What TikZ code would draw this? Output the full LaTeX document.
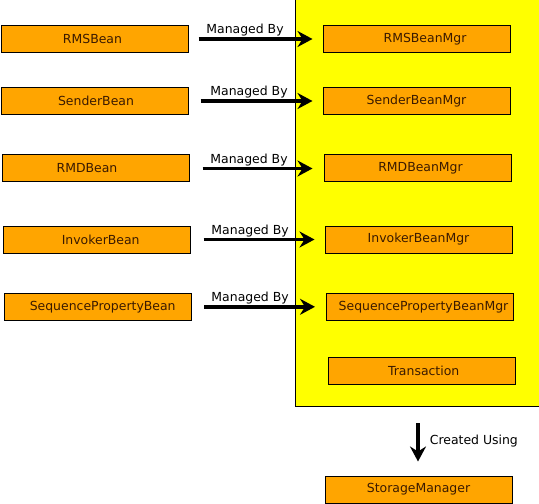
\documentclass[tikz,border=0pt]{standalone}
\usepackage{fontspec}
\setmainfont{DejaVu Sans}
\usetikzlibrary{arrows.meta}
\definecolor{boxfill}{HTML}{FFA500}
\definecolor{boxtext}{HTML}{3A1A00}
\definecolor{areafill}{HTML}{FFFF00}
\tikzset{
  beanbox/.style={draw=black, line width=1bp, fill=boxfill, minimum width=187bp, minimum height=27bp, inner sep=0pt},
  lbl/.style={text=boxtext, font=\fontsize{12.5}{14}\selectfont},
  edgelbl/.style={text=black, font=\fontsize{12.5}{14}\selectfont, inner sep=1bp},
  managed/.style={line width=3.6bp, -{Stealth[length=15bp,width=16bp,inset=5bp]}},
}
\begin{document}
\begin{tikzpicture}[x=1bp,y=-1bp]
\useasboundingbox (0,0) rectangle (539,504);
\fill[white] (0,0) rectangle (539,504);
\draw[fill=areafill, line width=1bp] (541,-3) -- (295.5,-3) -- (295.5,406.5) -- (541,406.5);

% left column
\node[beanbox, label={[lbl,xshift=-2.5bp]center:RMSBean}] (b1) at (95,39) {};
\node[beanbox, label={[lbl,xshift=1bp]center:SenderBean}] (b2) at (95,101) {};
\node[beanbox, label={[lbl,xshift=-9bp]center:RMDBean}] (b3) at (96,168.5) {};
\node[beanbox, label={[lbl,xshift=4bp]center:InvokerBean}] (b4) at (96.7,239.5) {};
\node[beanbox, label={[lbl,xshift=5bp]center:SequencePropertyBean}] (b5) at (97.7,306.8) {};

% right column
\node[beanbox, label={[lbl,xshift=8.5bp]center:RMSBeanMgr}] (m1) at (416.5,39) {};
\node[beanbox, label={[lbl]center:SenderBeanMgr}] (m2) at (416.5,101) {};
\node[beanbox, label={[lbl,xshift=3bp]center:RMDBeanMgr}] (m3) at (417.5,168.5) {};
\node[beanbox, label={[lbl]center:InvokerBeanMgr}] (m4) at (418.5,239.5) {};
\node[beanbox, label={[lbl,xshift=4bp]center:SequencePropertyBeanMgr}] (m5) at (419.5,306.8) {};
\node[beanbox, label={[lbl,xshift=2bp]center:Transaction}] (tr) at (421.7,370.5) {};
\node[beanbox, label={[lbl]center:StorageManager}] (sm) at (418.5,489.5) {};

% managed-by arrows
\draw[managed] ([xshift=9.5bp]b1.east) -- node[edgelbl, above, xshift=-10.5bp] {Managed By} ([xshift=-10bp]m1.west);
\draw[managed] ([xshift=11.5bp]b2.east) -- node[edgelbl, above, xshift=-7.5bp] {Managed By} ([xshift=-10bp]m2.west);
\draw[managed] ([xshift=12.5bp]b3.east) -- node[edgelbl, above, xshift=-8.5bp] {Managed By} ([xshift=-11bp]m3.west);
\draw[managed] ([xshift=13bp]b4.east) -- node[edgelbl, above, xshift=-9bp] {Managed By} ([xshift=-10bp]m4.west);
\draw[managed] ([xshift=12.5bp]b5.east) -- node[edgelbl, above, xshift=-9.5bp] {Managed By} ([xshift=-10.5bp]m5.west);

% created using
\coordinate (cu) at (418,423);
\draw[managed] (cu) -- node[edgelbl, right, xshift=9bp, yshift=1bp] {Created Using} ([yshift=14bp]sm.north -| cu);
\end{tikzpicture}
\end{document}
